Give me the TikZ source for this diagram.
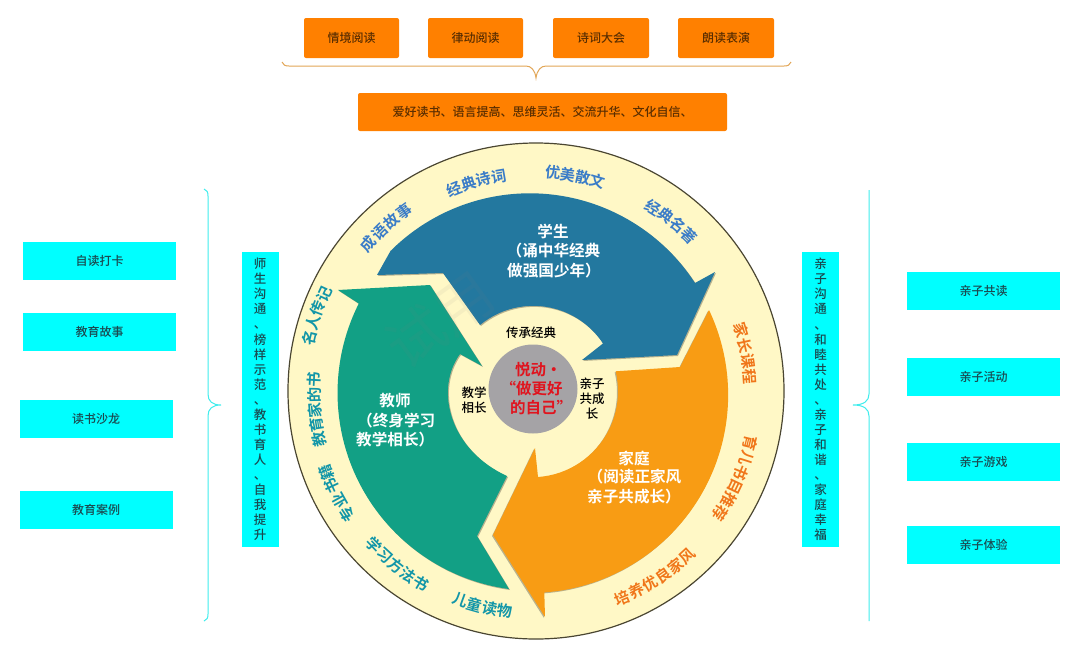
\documentclass[tikz,border=0pt]{standalone}
\usepackage{fontspec}
\setmainfont{Noto Sans CJK SC Medium}
\newfontfamily\cjkbold{Noto Sans CJK SC Bold}
\newfontfamily\cjkplain{Noto Sans CJK SC}
\definecolor{ringfill}{HTML}{FFF8C6}
\definecolor{ringline}{HTML}{4A4632}
\definecolor{swblue}{HTML}{23789F}
\definecolor{swteal}{HTML}{12A085}
\definecolor{sworange}{HTML}{F89C14}
\definecolor{hubgray}{HTML}{A5A3A6}
\definecolor{lblblue}{HTML}{3A7CC8}
\definecolor{lblteal}{HTML}{1296A8}
\definecolor{lblorange}{HTML}{F0761A}
\definecolor{hubred}{HTML}{E0141E}
\definecolor{boxorange}{HTML}{FF8000}
\definecolor{boxcyan}{HTML}{00FFFF}
\definecolor{textbrown}{HTML}{5A2E00}
\definecolor{textcyan}{HTML}{1A4A50}
\definecolor{braceorange}{HTML}{E2A657}
\definecolor{bracecyan}{HTML}{40EDED}
\tikzset{
  orangebox/.style={fill=boxorange,rounded corners=2pt,inner sep=0pt,text=textbrown,font=\fontsize{12}{14}\selectfont},
  cyanbox/.style={fill=boxcyan,inner sep=0pt,text=textcyan,font=\fontsize{12}{14}\selectfont},
  tallbox/.style={fill=boxcyan,inner sep=0pt,minimum width=37pt,minimum height=295pt,text=textcyan,align=center,font=\fontsize{12.5}{15.05}\selectfont},
  swtext/.style={text=white,align=left,font=\cjkbold\fontsize{15.6}{20}\selectfont,inner sep=0pt},
  hubtext/.style={text=black,align=center,font=\fontsize{12.5}{15}\selectfont,inner sep=0pt},
  hubred/.style={text=hubred,inner sep=0pt,font=\cjkbold\fontsize{15.5}{19}\selectfont},
  arcchar/.style={inner sep=0pt,font=\cjkbold\fontsize{15.2}{15.2}\selectfont},
  swshadow/.style={fill=black,fill opacity=.28,draw=none},
}
% \arclabel{name}{chars}{first angle}{step}{radius}{colour}{rotation offset}
\newcommand{\arclabel}[7]{%
  \foreach \ch [count=\i from 0] in {#2} {%
    \pgfmathsetmacro{\ang}{#3+\i*(#4)}%
    \pgfmathsetmacro{\px}{536+#5*cos(\ang)}%
    \pgfmathsetmacro{\py}{391-#5*sin(\ang)}%
    \node[arcchar,text=#6,rotate=\ang+#7] (#1-\i) at (\px,\py) {\ch};%
  }%
}
\newcommand{\blueshape}{(695,283) arc[start angle=-33,end angle=-135,radius=197] -- (377,275) -- (443,273) -- (480,325) arc[start angle=-129.6,end angle=-33.3,radius=83.5] -- (582,360) -- (677,355) -- (715,272) -- cycle}
\newcommand{\tealshape}{(509,589) arc[start angle=97.7,end angle=206.8,radius=198] -- (338,290) -- (430,285) -- (482,366) -- (460,354) .. controls (434,390) and (450,450) .. (507,476) -- (477,536) -- cycle}
\newcommand{\orangeshape}{(709,310) arc[start angle=-25.4,end angle=85.9,radius=198] -- (545,617) -- (493,535) -- (535,448) -- (538,477) arc[start angle=86,end angle=-13.4,radius=86] -- (680,367) -- cycle}
\begin{document}
\begin{tikzpicture}[x=1pt,y=-1pt]
\useasboundingbox (0,0) rectangle (1080,657);
\fill[white] (0,0) rectangle (1080,657);
% top boxes
\node[orangebox,minimum width=95pt,minimum height=40pt] (t1) at (351.5,38) {情境阅读};
\node[orangebox,minimum width=95pt,minimum height=40pt] (t2) at (475.5,38) {律动阅读};
\node[orangebox,minimum width=96pt,minimum height=40pt] (t3) at (601,38) {诗词大会};
\node[orangebox,minimum width=96pt,minimum height=40pt] (t4) at (726,38) {朗读表演};
\node[orangebox,minimum width=369pt,minimum height=38pt] (t5) at (542.5,112) {爱好读书、语言提高、思维灵活、交流升华、文化自信、};
\draw[braceorange,line width=1pt] (282,62) .. controls (283,65) and (285,66) .. (289,66) -- (526,66) .. controls (531,66) and (535,70) .. (536,78) .. controls (537,70) and (541,66) .. (546,66) -- (784,66) .. controls (788,66) and (790,65) .. (791,62);
% left
\node[cyanbox,minimum width=153pt,minimum height=38pt] (l1) at (99.5,260.5) {自读打卡};
\node[cyanbox,minimum width=153pt,minimum height=38pt] (l2) at (99.5,332) {教育故事};
\node[cyanbox,minimum width=153pt,minimum height=38pt] (l3) at (96,419) {读书沙龙};
\node[cyanbox,minimum width=153pt,minimum height=38pt] (l4) at (96,510) {教育案例};
\draw[bracecyan,line width=1pt] (204,189) .. controls (207,190) and (208,192) .. (208,196) -- (208,394) .. controls (208,401) and (212,405) .. (221,405) .. controls (212,405) and (208,409) .. (208,416) -- (208,614) .. controls (208,618) and (207,620) .. (204,621);
\node[tallbox] (lt) at (260,399.5) {师\\生\\沟\\通\\、\\榜\\样\\示\\范\\、\\教\\书\\育\\人\\、\\自\\我\\提\\升};
% right
\node[cyanbox,minimum width=153pt,minimum height=38pt] (r1) at (983.5,291) {亲子共读};
\node[cyanbox,minimum width=153pt,minimum height=38pt] (r2) at (983.5,376.5) {亲子活动};
\node[cyanbox,minimum width=153pt,minimum height=38pt] (r3) at (983.5,461.5) {亲子游戏};
\node[cyanbox,minimum width=153pt,minimum height=38pt] (r4) at (983.5,544.5) {亲子体验};
\draw[bracecyan,line width=1pt] (869,190) -- (869,394) .. controls (869,401) and (864,405) .. (853,405) .. controls (864,405) and (869,409) .. (869,416) -- (869,621);
\node[tallbox] (rt) at (820.5,399.5) {亲\\子\\沟\\通\\、\\和\\睦\\共\\处\\、\\亲\\子\\和\\谐\\、\\家\\庭\\幸\\福};
% disc
\draw[ringline,fill=ringfill,line width=1.2pt] (536,391) circle[radius=248];
% swooshes with soft shadow
\fill[swshadow,shift={(1,1)}] \blueshape;
\fill[swshadow,shift={(1,1)}] \tealshape;
\fill[swshadow,shift={(-1,1)}] \orangeshape;
\fill[swblue] \blueshape;
\fill[swteal] \tealshape;
\fill[sworange] \orangeshape;
% watermark
\node[rotate=36,text=gray,text opacity=.08,inner sep=0pt,font=\cjkplain\fontsize{58}{58}\selectfont] (wm) at (440,320) {试用};
% hub
\node[circle,fill=hubgray,minimum size=89pt,inner sep=0pt] (hub) at (533,389) {};
\node[hubred,anchor=west] (hubt1) at (515,370) {悦动•};
\node[hubred,anchor=west] (hubt2) at (500.5,389) {“做更好};
\node[hubred,anchor=west] (hubt3) at (510,408) {的自己”};
\node[hubtext] (h1) at (531,333) {传承经典};
\node[hubtext] (h2) at (474,400) {教学\\相长};
\node[hubtext] (h3) at (592,399) {亲子\\共成\\长};
% swoosh texts
\node[swtext,align=center] (s1) at (553,231) {学生};
\node[swtext,anchor=west] (s2) at (506.5,251) {（诵中华经典};
\node[swtext,anchor=west] (s3) at (507,271) {做强国少年）};
\node[swtext,align=center] (e1) at (395,401) {教师};
\node[swtext,anchor=west] (e2) at (357,421) {（终身学习};
\node[swtext,anchor=west] (e3) at (356,440) {教学相长）};
\node[swtext,align=center] (f1) at (634,458) {家庭};
\node[swtext,anchor=west] (f2) at (587.5,477) {（阅读正家风};
\node[swtext,anchor=west] (f3) at (587,497) {亲子共成长）};
% ring labels
\arclabel{a1}{经,典,诗,词}{112.1}{-4.07}{218}{lblblue}{-90}
\arclabel{a2}{优,美,散,文}{85.6}{-4.0}{219}{lblblue}{-90}
\arclabel{a3}{经,典,名,著}{57.5}{-4.0}{218}{lblblue}{-90}
\arclabel{a4}{成,语,故,事}{138.8}{-4.2}{223}{lblblue}{-90}
\arclabel{a5}{名,人,传,记}{166.7}{-3.75}{233}{lblteal}{-90}
\arclabel{a6}{教,育,家,的,书}{192.7}{-3.9}{222}{lblteal}{-90}
\arclabel{a7}{专,业,书,籍}{213.1}{-4.0}{225}{lblteal}{-90}
\arclabel{a8}{学,习,方,法,书}{223.5}{3.9}{224}{lblteal}{90}
\arclabel{a9}{儿,童,读,物}{250}{4.0}{222}{lblteal}{90}
\arclabel{a10}{家,长,课,程}{16.5}{-4.2}{214}{lblorange}{-90}
\arclabel{a11}{育,儿,书,目,推,荐}{-13.7}{-3.95}{221}{lblorange}{-90}
\arclabel{a12}{培,养,优,良,家,风}{-67.4}{4.0}{224}{lblorange}{90}
\end{tikzpicture}
\end{document}
